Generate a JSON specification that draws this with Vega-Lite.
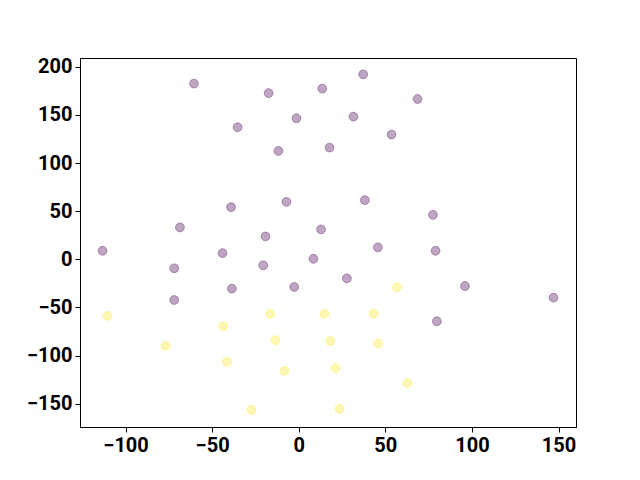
{
  "$schema": "https://vega.github.io/schema/vega-lite/v6.json",
  "width": 496,
  "height": 369,
  "autosize": {"type": "none"},
  "padding": {"left": 80, "top": 58, "right": 64, "bottom": 53},
  "background": "white",
  "config": {
    "view": {"stroke": "black", "strokeWidth": 1},
    "axis": {
      "labelFont": "Roboto",
      "labelFontWeight": "bold",
      "labelFontSize": 20,
      "labelColor": "black",
      "domainColor": "black",
      "tickColor": "black",
      "tickSize": 5,
      "labelPadding": 3,
      "grid": false,
      "title": null
    }
  },
  "data": {
    "values": [
      {"x": -60.5, "y": 182.5, "c": "a"},
      {"x": -17.4, "y": 172.7, "c": "a"},
      {"x": 13.6, "y": 177.3, "c": "a"},
      {"x": -1.3, "y": 146.5, "c": "a"},
      {"x": -35.3, "y": 137.2, "c": "a"},
      {"x": -11.7, "y": 112.6, "c": "a"},
      {"x": 17.8, "y": 116.1, "c": "a"},
      {"x": -7.1, "y": 59.7, "c": "a"},
      {"x": -39.1, "y": 54.2, "c": "a"},
      {"x": -68.6, "y": 33.2, "c": "a"},
      {"x": -19.2, "y": 23.8, "c": "a"},
      {"x": 12.9, "y": 31.1, "c": "a"},
      {"x": 37.2, "y": 192.1, "c": "a"},
      {"x": 68.6, "y": 166.5, "c": "a"},
      {"x": 31.6, "y": 148.2, "c": "a"},
      {"x": 53.6, "y": 129.6, "c": "a"},
      {"x": 38.2, "y": 61.5, "c": "a"},
      {"x": 77.5, "y": 46.2, "c": "a"},
      {"x": 45.7, "y": 12.4, "c": "a"},
      {"x": -113.3, "y": 8.9, "c": "a"},
      {"x": -44.0, "y": 6.5, "c": "a"},
      {"x": -20.5, "y": -6.2, "c": "a"},
      {"x": -71.9, "y": -9.3, "c": "a"},
      {"x": 8.5, "y": 0.6, "c": "a"},
      {"x": -38.6, "y": -30.5, "c": "a"},
      {"x": -2.6, "y": -28.7, "c": "a"},
      {"x": -71.9, "y": -42.2, "c": "a"},
      {"x": 79.0, "y": 8.9, "c": "a"},
      {"x": 27.8, "y": -19.7, "c": "a"},
      {"x": 96.0, "y": -27.7, "c": "a"},
      {"x": 147.1, "y": -39.8, "c": "a"},
      {"x": 79.8, "y": -64.3, "c": "a"},
      {"x": -110.4, "y": -58.8, "c": "b"},
      {"x": -16.5, "y": -56.7, "c": "b"},
      {"x": 14.9, "y": -56.4, "c": "b"},
      {"x": -43.6, "y": -69.5, "c": "b"},
      {"x": -76.9, "y": -89.9, "c": "b"},
      {"x": -13.4, "y": -84.0, "c": "b"},
      {"x": 18.2, "y": -85.0, "c": "b"},
      {"x": -41.5, "y": -106.5, "c": "b"},
      {"x": -8.2, "y": -115.8, "c": "b"},
      {"x": -27.3, "y": -156.2, "c": "b"},
      {"x": 56.7, "y": -29.0, "c": "b"},
      {"x": 43.2, "y": -56.4, "c": "b"},
      {"x": 45.9, "y": -87.5, "c": "b"},
      {"x": 21.2, "y": -113.0, "c": "b"},
      {"x": 62.8, "y": -128.6, "c": "b"},
      {"x": 23.6, "y": -155.2, "c": "b"}
    ]
  },
  "mark": {"type": "point", "shape": "circle", "filled": true, "size": 78, "fillOpacity": 0.35, "strokeOpacity": 0.35, "strokeWidth": 1},
  "encoding": {
    "x": {
      "field": "x", "type": "quantitative",
      "scale": {"domain": [-126.3, 160.1], "nice": false, "zero": false},
      "axis": {"values": [-100, -50, 0, 50, 100, 150]}
    },
    "y": {
      "field": "y", "type": "quantitative",
      "scale": {"domain": [-174.1, 209.1], "nice": false, "zero": false},
      "axis": {"values": [-150, -100, -50, 0, 50, 100, 150, 200]}
    },
    "fill": {"field": "c", "type": "nominal", "scale": {"domain": ["a", "b"], "range": ["#440154", "#fde725"]}, "legend": null},
    "stroke": {"field": "c", "type": "nominal", "scale": {"domain": ["a", "b"], "range": ["#440154", "#fde725"]}, "legend": null}
  }
}
